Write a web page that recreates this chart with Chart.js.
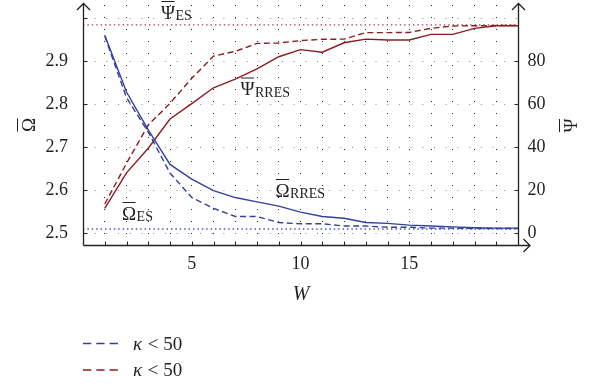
<!DOCTYPE html>
<html><head><meta charset="utf-8">
<script src="https://cdn.jsdelivr.net/npm/chart.js@4/dist/chart.umd.min.js"></script>
<style>html,body{margin:0;padding:0;background:#fff}canvas{display:block}</style>
</head><body>
<canvas id="c" width="593" height="385"></canvas>
<script>
// ---- data ----
const W = [1,2,3,4,5,6,7,8,9,10,11,12,13,14,15,16,17,18,19,20];
const omegaRRES = [2.960,2.828,2.740,2.660,2.626,2.599,2.583,2.573,2.563,2.549,2.539,2.535,2.525,2.523,2.519,2.517,2.515,2.513,2.512,2.512];
const omegaK50  = [2.958,2.815,2.735,2.640,2.583,2.558,2.539,2.539,2.525,2.522,2.522,2.517,2.517,2.514,2.514,2.512,2.512,2.511,2.511,2.511];
const psiRRES   = [11.6,28.1,39.5,53.1,60.2,67.6,71.6,76.4,82.0,85.3,84.1,88.5,90.2,89.8,89.8,92.4,92.4,95.2,96.4,96.4];
const psiK50    = [13.6,32.5,50.3,60.4,72.0,82.3,84.5,88.2,88.4,89.5,90.1,90.2,93.2,93.2,93.3,95.2,96.3,96.4,96.5,96.5];
const omegaES = 2.510;
const psiES = 96.8;
const xRange = [0, 20];
const xTickLabels = {5:'5', 10:'10', 15:'15'};
const leftTicks = [2.5, 2.6, 2.7, 2.8, 2.9, 3.0];
const leftTickLabels = ['2.5','2.6','2.7','2.8','2.9',''];
const rightTicks = [0, 20, 40, 60, 80];
const rightTickLabels = ['0','20','40','60','80'];
const legendSymbol = '\u03BA';
const legendRest = ' < 50';

// ---- styles ----
const BLUE = '#33409e';
const RED = '#8c1c22';
const BLUE_DOT = '#3d52c4';
const RED_DOT = '#b3354a';
const INK = '#231f20';
const SERIF = '"Liberation Serif", "DejaVu Serif", serif';

const pts = arr => W.map((w, i) => ({x: w, y: arr[i]}));

const annot = {
  id: 'annot',
  afterDraw(chart) {
    const ctx = chart.ctx;
    const ca = chart.chartArea;
    const xs = chart.scales.x, yl = chart.scales.y, yr = chart.scales.y2;
    ctx.save();
    ctx.strokeStyle = INK; ctx.fillStyle = INK; ctx.lineWidth = 1.3;
    // axes
    const L = Math.round(ca.left) + 0.5, R = Math.round(ca.right) + 0.5, B = Math.round(ca.bottom) + 0.5;
    ctx.beginPath();
    ctx.moveTo(L, B); ctx.lineTo(L, ca.top - 1.5);
    ctx.moveTo(R, B); ctx.lineTo(R, ca.top - 1.5);
    ctx.moveTo(L, B); ctx.lineTo(R + 11, B);
    ctx.stroke();
    // arrow heads
    ctx.beginPath();
    [L, R].forEach(x => { ctx.moveTo(x - 6.5, ca.top + 5); ctx.lineTo(x, ca.top - 1.5); ctx.lineTo(x + 6.5, ca.top + 5); });
    ctx.moveTo(R + 5, B - 6.5); ctx.lineTo(R + 11.5, B); ctx.lineTo(R + 5, B + 6.5);
    ctx.stroke();
    // inward ticks
    ctx.lineWidth = 1;
    ctx.beginPath();
    for (let w = xRange[0] + 1; w < xRange[1]; w++) {
      const x = Math.round(xs.getPixelForValue(w)) + 0.5;
      ctx.moveTo(x, B); ctx.lineTo(x, B - 4);
    }
    leftTicks.forEach(v => { const y = Math.round(yl.getPixelForValue(v)) + 0.5; ctx.moveTo(L, y); ctx.lineTo(L + 4, y); });
    rightTicks.forEach(v => { const y = Math.round(yr.getPixelForValue(v)) + 0.5; ctx.moveTo(R, y); ctx.lineTo(R - 4, y); });
    ctx.stroke();

    // overlined symbol with subscript
    const sym = (main, sub, x, base) => {
      ctx.font = '19px ' + SERIF;
      ctx.textAlign = 'left'; ctx.textBaseline = 'alphabetic';
      ctx.fillText(main, x, base);
      const w = ctx.measureText(main).width;
      ctx.lineWidth = 1;
      ctx.beginPath(); ctx.moveTo(x + 0.5, base - 17); ctx.lineTo(x + w - 0.5, base - 17); ctx.stroke();
      ctx.font = '14px ' + SERIF;
      ctx.fillText(sub, x + w + 0.5, base + 1.5);
    };
    sym('\u03A8', 'ES', 161, 18.5);
    sym('\u03A8', 'RRES', 240.5, 95);
    sym('\u03A9', 'RRES', 275.5, 196.5);
    sym('\u03A9', 'ES', 122, 219.5);

    // rotated axis titles
    const rotTitle = (ch, x, y) => {
      ctx.save();
      ctx.translate(x, y); ctx.rotate(-Math.PI / 2);
      ctx.font = '19px ' + SERIF; ctx.textAlign = 'center'; ctx.textBaseline = 'alphabetic';
      ctx.fillText(ch, 0, 0);
      const w = ctx.measureText(ch).width;
      ctx.lineWidth = 1;
      ctx.beginPath(); ctx.moveTo(-w / 2 + 0.5, -17.5); ctx.lineTo(w / 2 - 0.5, -17.5); ctx.stroke();
      ctx.restore();
    };
    rotTitle('\u03A9', 35, 125);
    rotTitle('\u03A8', 577, 125.5);

    // x title
    ctx.font = 'italic 20px ' + SERIF; ctx.textAlign = 'center'; ctx.textBaseline = 'alphabetic';
    ctx.fillText('W', 301, 300);

    // legend (dashed series)
    const legendSets = [chart.data.datasets[1], chart.data.datasets[3]];
    const rows = [343.5, 370];
    legendSets.forEach((ds, i) => {
      ctx.strokeStyle = ds.borderColor; ctx.lineWidth = 1.3;
      ctx.setLineDash([8.3, 5]);
      ctx.beginPath(); ctx.moveTo(83, rows[i]); ctx.lineTo(118, rows[i]); ctx.stroke();
      ctx.setLineDash([]);
      ctx.fillStyle = INK; ctx.textAlign = 'left'; ctx.textBaseline = 'alphabetic';
      ctx.font = 'italic 19px ' + SERIF;
      ctx.fillText(legendSymbol, 133, rows[i] + 6);
      const kw = ctx.measureText(legendSymbol).width;
      ctx.font = '19px ' + SERIF;
      ctx.fillText(legendRest, 133 + kw + 1, rows[i] + 6);
    });
    ctx.restore();
  }
};

new Chart(document.getElementById('c'), {
  type: 'line',
  data: {
    datasets: [
      {label: '\u03A9 RRES', data: pts(omegaRRES), yAxisID: 'y', borderColor: BLUE, borderWidth: 1.4},
      {label: legendSymbol + legendRest, data: pts(omegaK50), yAxisID: 'y', borderColor: BLUE, borderWidth: 1.4, borderDash: [6, 3.5]},
      {label: '\u03A8 RRES', data: pts(psiRRES), yAxisID: 'y2', borderColor: RED, borderWidth: 1.4},
      {label: legendSymbol + legendRest, data: pts(psiK50), yAxisID: 'y2', borderColor: RED, borderWidth: 1.4, borderDash: [6, 3.5]},
      {label: '\u03A9 ES', data: [{x: xRange[0], y: omegaES}, {x: xRange[1], y: omegaES}], yAxisID: 'y', borderColor: BLUE_DOT, borderWidth: 1.4, borderDash: [1.4, 3]},
      {label: '\u03A8 ES', data: [{x: xRange[0], y: psiES}, {x: xRange[1], y: psiES}], yAxisID: 'y2', borderColor: RED_DOT, borderWidth: 1.4, borderDash: [1.4, 3]}
    ]
  },
  options: {
    responsive: false,
    animation: false,
    elements: {point: {radius: 0}, line: {tension: 0, fill: false}},
    layout: {padding: {top: 5, left: 0, right: 0, bottom: 0}},
    plugins: {legend: {display: false}, tooltip: {enabled: false}},
    scales: {
      x: {
        type: 'linear', position: 'bottom', min: xRange[0], max: xRange[1],
        afterBuildTicks: s => { const t = []; for (let v = xRange[0]; v <= xRange[1]; v++) t.push({value: v}); s.ticks = t; },
        afterFit: s => { s.height = 140; s.paddingLeft = 0; s.paddingRight = 0; },
        ticks: {autoSkip: false, maxRotation: 0, padding: 8, color: INK, font: {family: SERIF, size: 18},
          callback: v => xTickLabels[v] || ''},
        grid: {drawTicks: false, lineWidth: 1,
          color: c => (c.tick && (c.tick.value === xRange[0] || c.tick.value === xRange[1])) ? 'rgba(0,0,0,0)' : '#2a2a2a'},
        border: {display: false, dash: [1, 11]}
      },
      y: {
        type: 'linear', position: 'left', min: 2.4728, max: 3.0302,
        afterBuildTicks: s => { s.ticks = leftTicks.map(v => ({value: v})); },
        afterFit: s => { s.width = 83; s.paddingTop = 0; s.paddingBottom = 0; },
        ticks: {padding: 15, color: INK, font: {family: SERIF, size: 18},
          callback: (v, i) => leftTickLabels[i]},
        grid: {drawTicks: false, lineWidth: 1, color: '#8a8a8a'},
        border: {display: false, dash: [1, 10.7]}
      },
      y2: {
        type: 'linear', position: 'right', min: -5.44, max: 106.04,
        afterBuildTicks: s => { s.ticks = rightTicks.map(v => ({value: v})); },
        afterFit: s => { s.width = 75; s.paddingTop = 0; s.paddingBottom = 0; },
        ticks: {padding: 9.5, color: INK, font: {family: SERIF, size: 18},
          callback: (v, i) => rightTickLabels[i]},
        grid: {display: false, drawTicks: false},
        border: {display: false}
      }
    }
  },
  plugins: [annot]
});
</script>
</body></html>
